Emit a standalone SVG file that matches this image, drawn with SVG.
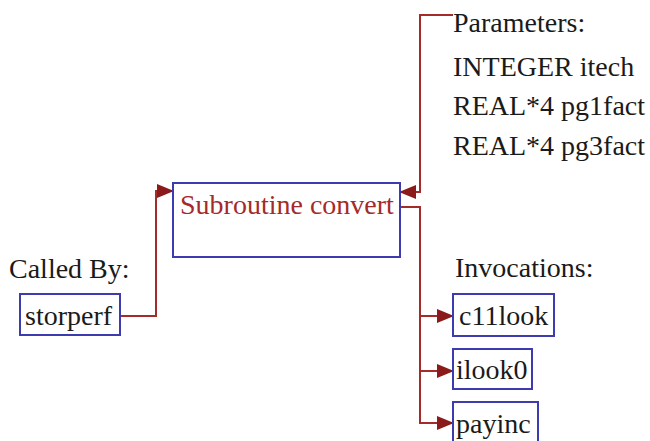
<svg xmlns="http://www.w3.org/2000/svg" width="650" height="441" viewBox="0 0 650 441">
<style>
.box{fill:none;stroke:#3c3cb0;stroke-width:2}
.t{font-family:"Liberation Serif","Times New Roman",serif;font-size:28px;fill:#1a1a1a}
.tr{font-family:"Liberation Serif","Times New Roman",serif;font-size:28px;fill:#a52a2a}
.c{fill:none;stroke:#a52a2a;stroke-width:2}
</style>
<defs>
<marker id="ah" markerWidth="17" markerHeight="14" refX="16" refY="7" orient="auto" markerUnits="userSpaceOnUse">
<path d="M0,0 L17,7 L0,14 Z" fill="#8b1a1a"/>
</marker>
</defs>
<rect width="650" height="441" fill="#ffffff"/>
<g id="connectors">
<path class="c" d="M120,316 H156 V191 H173" marker-end="url(#ah)"/>
<path class="c" d="M453,15 H420 V192 H400" marker-end="url(#ah)"/>
<path class="c" d="M400,207 H420 V316 H453" marker-end="url(#ah)"/>
<path class="c" d="M420,316 V371 H453" marker-end="url(#ah)"/>
<path class="c" d="M420,371 V423 H453" marker-end="url(#ah)"/>
</g>
<g id="main">
<rect class="box" x="173" y="183" width="227" height="74"/>
<text class="tr" x="180" y="214">Subroutine convert</text>
</g>
<g id="params">
<text class="t" x="453" y="32">Parameters:</text>
<text class="t" x="453" y="76">INTEGER itech</text>
<text class="t" x="453" y="115">REAL*4 pg1fact</text>
<text class="t" x="453" y="155">REAL*4 pg3fact</text>
</g>
<g id="calledby">
<text class="t" x="9" y="278">Called By:</text>
</g>
<g id="storperf">
<rect class="box" x="20" y="294" width="100" height="41"/>
<text class="t" x="25" y="325">storperf</text>
</g>
<g id="invocations">
<text class="t" x="455" y="277">Invocations:</text>
</g>
<g id="c11look">
<rect class="box" x="453" y="294" width="101" height="42"/>
<text class="t" x="459" y="325">c11look</text>
</g>
<g id="ilook0">
<rect class="box" x="453" y="349" width="79" height="40"/>
<text class="t" x="456" y="379">ilook0</text>
</g>
<g id="payinc">
<rect class="box" x="453" y="402" width="85" height="45"/>
<text class="t" x="456" y="433">payinc</text>
</g>
</svg>
